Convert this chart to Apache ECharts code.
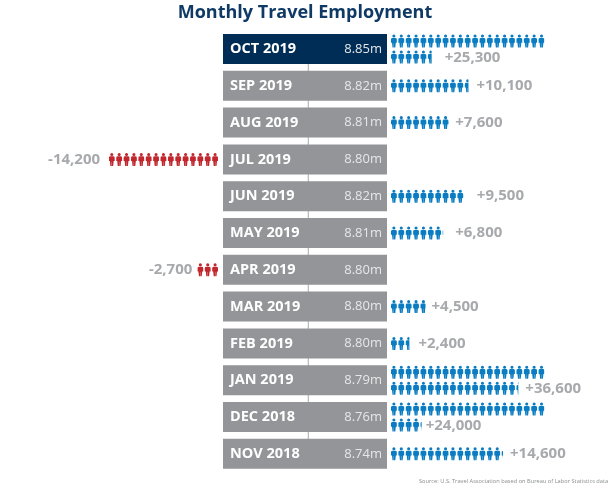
<!DOCTYPE html>
<html>
<head>
<meta charset="utf-8">
<style>
  html, body { margin: 0; padding: 0; background: #fff; }
  #main { width: 610px; height: 485px; }
</style>
<script src="https://cdn.jsdelivr.net/npm/echarts@6/dist/echarts.min.js"></script>
</head>
<body>
<div id="main"></div>
<script>
const months = ['OCT 2019', 'SEP 2019', 'AUG 2019', 'JUL 2019', 'JUN 2019', 'MAY 2019', 'APR 2019', 'MAR 2019', 'FEB 2019', 'JAN 2019', 'DEC 2018', 'NOV 2018']
const totals = ['8.85m', '8.82m', '8.81m', '8.80m', '8.82m', '8.81m', '8.80m', '8.80m', '8.80m', '8.79m', '8.76m', '8.74m']
// 变化量,单位:千人,一个小人 = 1000
const changes = [25.3, 10.1, 7.6, -14.2, 9.5, 6.8, -2.7, 4.5, 2.4, 36.6, 24.0, 14.6]
const changeLabels = ['+25,300', '+10,100', '+7,600', '-14,200', '+9,500', '+6,800', '-2,700', '+4,500', '+2,400', '+36,600', '+24,000', '+14,600']

const rowLimit = 20 // 每行最多 20 个
const pitch = 7.67
const person = 'path://M5 0a2.7 2.7 0 1 1-.01 0zM2.6 6h4.8a2.6 2.6 0 0 1 2.6 2.6v5.9h-1.7l-.9 8.5h-2.2v-7.5h-.4v7.5h-2.2l-.9-8.5h-1.7v-5.9a2.6 2.6 0 0 1 2.6-2.6z'
const personSize = [5.8, 13]
const labelGap = [13, 8, 6, 9, 13, 12, 5, 6, 9, 7, 4, 7] // 数字和小人之间的空隙

const rowOne = changes.map(v => v > 0 ? Math.min(v, rowLimit) : null)
const rowTwo = changes.map(v => v > rowLimit ? v - rowLimit : null)
const lost = changes.map(v => v < 0 ? v : null)

function yAxis(gridIndex) {
  return { type: 'category', gridIndex: gridIndex, data: months, inverse: true, show: false }
}

function people(name, axis, data, color, dy) {
  return {
    name: name,
    type: 'pictorialBar',
    xAxisIndex: axis,
    yAxisIndex: axis,
    symbol: person,
    symbolSize: personSize,
    symbolRepeat: true,
    symbolMargin: (pitch - personSize[0]) / 2,
    symbolClip: true,
    symbolBoundingData: axis === 0 ? -rowLimit : rowLimit,
    itemStyle: { color: color },
    silent: true,
    data: data.map((v, i) => ({ value: v, symbolOffset: [0, dy(i)] }))
  }
}

const labelStyle = { show: true, color: '#a7a9ac', fontSize: 15, fontWeight: 'bold', fontFamily: 'Open Sans' }

let mychart = echarts.init(document.getElementById('main'))
let option = {
  animation: false,
  backgroundColor: '#fff',
  title: [
    {
      text: 'Monthly Travel Employment',
      left: 'center',
      top: -1,
      textStyle: { color: '#0f3a66', fontSize: 18, fontWeight: 'bold', fontFamily: 'Open Sans' }
    },
    {
      text: 'Source: U.S. Travel Association based on Bureau of Labor Statistics data',
      left: 414,
      top: 473,
      textStyle: { color: '#8a8c8e', fontSize: 5.7, fontWeight: 'normal', fontFamily: 'Open Sans' }
    }
  ],
  // 左:减少的小人 中:月份方块 右:增加的小人
  grid: [
    { left: 0, width: 218, top: 30.6, height: 441.6 },
    { left: 223, width: 164, top: 30.6, height: 441.6 },
    { left: 391, width: 219, top: 30.6, height: 441.6 }
  ],
  xAxis: [
    { type: 'value', gridIndex: 0, min: -218 / pitch, max: 0, show: false },
    { type: 'value', gridIndex: 1, min: 0, max: 1, show: false },
    { type: 'value', gridIndex: 2, min: 0, max: 219 / pitch, show: false }
  ],
  yAxis: [yAxis(0), yAxis(1), yAxis(2)],
  series: [
    {
      // 中间的竖线
      type: 'line',
      xAxisIndex: 1,
      yAxisIndex: 1,
      z: 1,
      symbol: 'none',
      silent: true,
      lineStyle: { color: '#a7a9ac', width: 1 },
      data: months.map(m => [0.52, m])
    },
    {
      type: 'bar',
      xAxisIndex: 1,
      yAxisIndex: 1,
      z: 2,
      barWidth: 30,
      barGap: '-100%',
      silent: true,
      data: months.map((m, i) => ({
        value: 1,
        itemStyle: { color: i === 0 ? '#002d56' : '#939598' }
      })),
      label: {
        show: true,
        position: 'insideLeft',
        distance: 7,
        color: '#fff',
        fontSize: 14.5,
        fontWeight: 'bold',
        fontFamily: 'Open Sans',
        formatter: p => months[p.dataIndex]
      }
    },
    {
      type: 'bar',
      xAxisIndex: 1,
      yAxisIndex: 1,
      z: 3,
      barWidth: 30,
      barGap: '-100%',
      silent: true,
      itemStyle: { color: 'transparent' },
      data: months.map(() => 1),
      label: {
        show: true,
        position: 'insideRight',
        distance: 5,
        color: '#e6e7e8',
        fontSize: 13,
        fontFamily: 'Open Sans',
        formatter: p => totals[p.dataIndex]
      }
    },
    people('lost', 0, lost, '#c1272d', () => 0),
    people('rowOne', 2, rowOne, '#0a7cc1', i => rowTwo[i] ? -8 : 0),
    people('rowTwo', 2, rowTwo, '#0a7cc1', () => 8),
    {
      // 透明柱子,只用来放数字
      type: 'bar',
      xAxisIndex: 0,
      yAxisIndex: 0,
      silent: true,
      itemStyle: { color: 'transparent' },
      data: lost.map((v, i) => v === null ? null : {
        value: v,
        label: { ...labelStyle, position: 'left', distance: labelGap[i], formatter: changeLabels[i] }
      })
    },
    {
      type: 'bar',
      xAxisIndex: 2,
      yAxisIndex: 2,
      silent: true,
      itemStyle: { color: 'transparent' },
      data: rowOne.map((v, i) => v === null ? null : {
        value: rowTwo[i] || v,
        label: {
          ...labelStyle,
          position: 'right',
          distance: labelGap[i],
          offset: [0, rowTwo[i] ? 9 : 0],
          formatter: changeLabels[i]
        }
      })
    }
  ]
}
mychart.setOption(option)
</script>
</body>
</html>
